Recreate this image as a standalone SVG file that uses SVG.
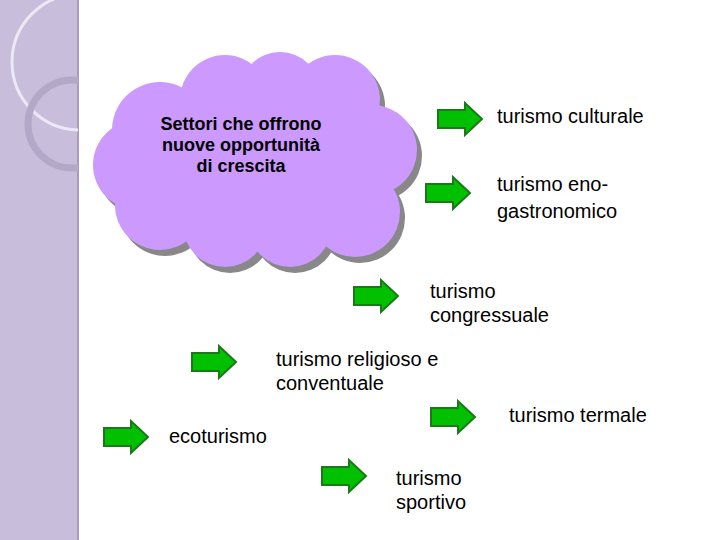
<svg xmlns="http://www.w3.org/2000/svg" width="720" height="540" viewBox="0 0 720 540">
<defs>
<style>
.t{font-family:"Liberation Sans",Arial,sans-serif;font-size:20px;fill:#000}
.h{font-family:"Liberation Sans",Arial,sans-serif;font-size:18px;font-weight:bold;fill:#000;text-anchor:middle}
.a{fill:#00c000;stroke:#1a7a1a;stroke-width:2}
</style>
<clipPath id="sb"><rect width="78" height="540"/></clipPath>
<g id="cl">
<circle cx="160" cy="130" r="48"/><circle cx="225" cy="100" r="45"/><circle cx="280" cy="92" r="40"/>
<circle cx="335" cy="100" r="45"/><circle cx="372" cy="150" r="45"/><circle cx="355" cy="212" r="45"/>
<circle cx="290" cy="225" r="42"/><circle cx="225" cy="225" r="42"/><circle cx="160" cy="205" r="45"/>
<circle cx="138" cy="165" r="45"/><ellipse cx="258" cy="165" rx="125" ry="80"/>
</g>
<path id="ar" class="a" d="M0 -9 H27 V-16 L44 0 L27 16 V9 H0 Z"/>
</defs>
<rect width="720" height="540" fill="#fff"/>
<g id="sidebar">
<rect width="78" height="540" fill="#c8bedb"/>
<rect x="77" width="2" height="540" fill="#a89cc0"/>
<g clip-path="url(#sb)">
<circle cx="80" cy="62" r="68" fill="none" stroke="#ece8f4" stroke-width="3"/>
<circle cx="72" cy="124" r="44" fill="none" stroke="#b3a8c8" stroke-width="7"/>
</g>
</g>
<g id="cloud">
<use href="#cl" transform="translate(5,6)" fill="#888"/>
<use href="#cl" fill="#cc99ff"/>
<text class="h" x="241" y="130">Settori che offrono</text>
<text class="h" x="241" y="151">nuove opportunità</text>
<text class="h" x="241" y="172">di crescita</text>
</g>
<g id="connectors">
<use href="#ar" x="438" y="119"/>
<use href="#ar" x="426" y="193"/>
<use href="#ar" x="354" y="296"/>
<use href="#ar" x="192" y="362"/>
<use href="#ar" x="431" y="417"/>
<use href="#ar" x="104" y="437"/>
<use href="#ar" x="322" y="476"/>
</g>
<g id="n1"><text class="t" x="497" y="123">turismo culturale</text></g>
<g id="n2"><text class="t" x="497" y="191">turismo eno-</text><text class="t" x="497" y="218">gastronomico</text></g>
<g id="n3"><text class="t" x="430" y="298">turismo</text><text class="t" x="430" y="322">congressuale</text></g>
<g id="n4"><text class="t" x="276" y="366">turismo religioso e</text><text class="t" x="276" y="390">conventuale</text></g>
<g id="n5"><text class="t" x="509" y="422">turismo termale</text></g>
<g id="n6"><text class="t" x="169" y="443">ecoturismo</text></g>
<g id="n7"><text class="t" x="396" y="485">turismo</text><text class="t" x="396" y="509">sportivo</text></g>
</svg>
